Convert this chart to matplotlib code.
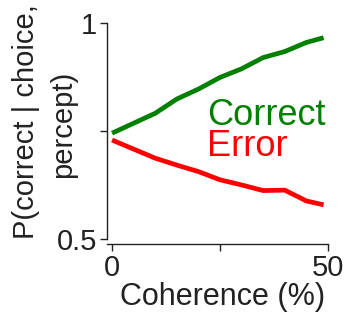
import matplotlib
matplotlib.use('Agg')
import matplotlib.pyplot as plt

plt.rcParams['font.family'] = ['Liberation Sans', 'DejaVu Sans']
plt.rcParams['text.color'] = '#222222'
plt.rcParams['axes.labelcolor'] = '#222222'
plt.rcParams['xtick.color'] = '#222222'
plt.rcParams['ytick.color'] = '#222222'

# coherence (%) and probabilities
coherence = [0, 5, 10, 15, 20, 25, 30, 35, 40, 45, 49]
p_correct = [0.745, 0.768, 0.791, 0.824, 0.847, 0.874, 0.894, 0.920, 0.934, 0.955, 0.966]
p_error = [0.729, 0.708, 0.687, 0.671, 0.656, 0.637, 0.625, 0.612, 0.613, 0.588, 0.579]
ylabel_lines = ['P(correct | choice,', 'percept)']

fig = plt.figure(figsize=(3.47, 3.29), dpi=100)
ax = fig.add_axes([0.308, 0.258, 0.637, 0.672])

ax.plot(coherence, p_correct, color='#008000', lw=3.4, solid_capstyle='butt')
ax.plot(coherence, p_error, color='#ff0000', lw=3.4, solid_capstyle='butt')

ax.text(22, 0.764, 'Correct', color='#008000', fontsize=26)
ax.text(22, 0.691, 'Error', color='#ff0000', fontsize=26)

ax.set_xlim(-1.2, 50)
ax.set_ylim(0.488, 1.0)
ax.spines['top'].set_visible(False)
ax.spines['right'].set_visible(False)
ax.spines['left'].set_bounds(0.5, 1.0)
for side in ['left', 'bottom']:
    ax.spines[side].set_linewidth(1)
    ax.spines[side].set_color('#222222')

ax.set_xticks([0, 25, 50], ['0', '', '50'])
ax.set_yticks([0.5, 0.75, 1.0], ['0.5', '', '1'])
ax.tick_params(length=5, width=1, labelsize=21, pad=2)

ax.set_xlabel('Coherence (%)', fontsize=22)
ax.xaxis.set_label_coords(0.525, -0.17)

# y label drawn as two lines so each one sits where the reference puts it
fig.text(0.075, 0.632, ylabel_lines[0], rotation=90, fontsize=21,
         ha='center', va='center', rotation_mode='anchor')
fig.text(0.182, 0.623, ylabel_lines[1], rotation=90, fontsize=21,
         ha='center', va='center', rotation_mode='anchor')

fig.savefig('out.png', dpi=100)
